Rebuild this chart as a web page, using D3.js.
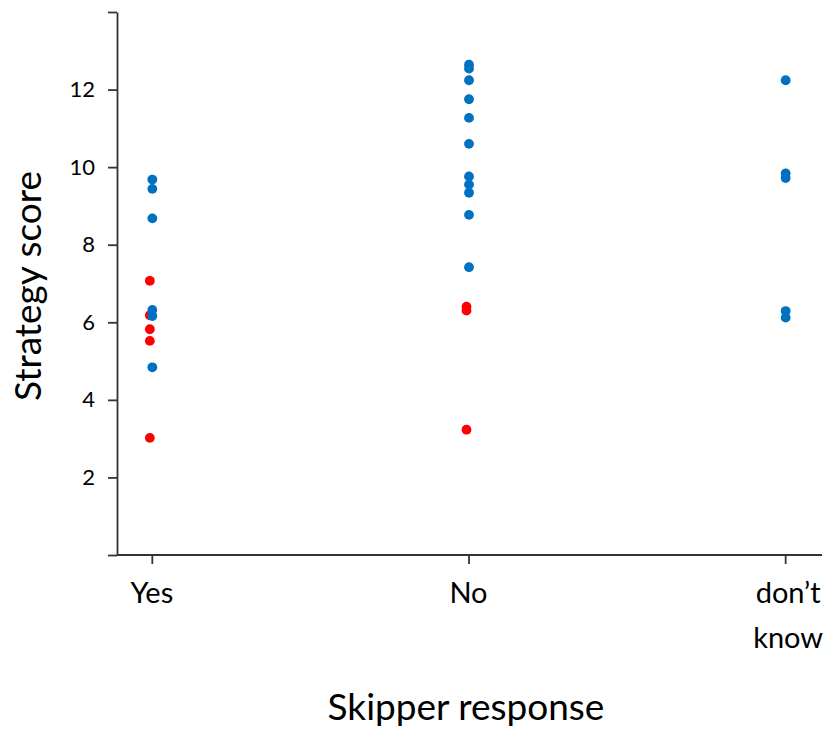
<!DOCTYPE html>
<html>
<head>
<meta charset="utf-8">
<script src="https://cdn.jsdelivr.net/npm/d3@7"></script>
<style>
    body { margin: 0; background: #fff; }
    svg text { font-family: Lato, 'Open Sans', sans-serif; fill: #000; }
    .axis path, .axis line { stroke: #333; stroke-width: 1.8; }
</style>
</head>
<body>
<div id="chart"></div>
<script>
// categories on the x axis
const categories = ['Yes', 'No', 'don\u2019t know'];

// blue and red scores per category (same order as categories)
const blueScores = [
    [9.68, 9.44, 8.68, 6.32, 6.16, 4.84],
    [12.64, 12.54, 12.24, 11.75, 11.27, 10.6, 9.76, 9.55, 9.34, 8.77, 7.42],
    [12.24, 9.84, 9.72, 6.29, 6.12]
];
const redScores = [
    [7.07, 6.18, 5.82, 5.52, 3.02],
    [6.4, 6.3, 3.23],
    []
];

const yTicks = [0, 2, 4, 6, 8, 10, 12, 14];
const yLabelled = [2, 4, 6, 8, 10, 12];

const width = 828;
const height = 729;
const plotLeft = 117, plotRight = 820, plotTop = 12, plotBottom = 555;

const svg = d3.select('#chart')
    .append('svg')
    .attr('width', width)
    .attr('height', height);

const xScale = d3.scalePoint()
    .domain(categories)
    .range([plotLeft, plotRight])
    .padding(0.11);

const yScale = d3.scaleLinear()
    .domain([0, 14])
    .range([plotBottom, plotTop]);

// y axis
const yAxis = d3.axisLeft(yScale)
    .tickValues(yTicks)
    .tickSize(9)
    .tickPadding(13)
    .tickSizeOuter(0)
    .tickFormat(d => yLabelled.includes(d) ? d : '');

svg.append('g')
    .classed('axis', true)
    .attr('transform', 'translate(' + plotLeft + ',0)')
    .call(yAxis)
    .call(g => g.selectAll('text').style('font-size', '22px'));

// x axis (line runs the full width, category ticks below)
const xAxis = d3.axisBottom(xScale)
    .tickSize(9)
    .tickSizeOuter(0)
    .tickFormat('');

const xg = svg.append('g')
    .classed('axis', true)
    .attr('transform', 'translate(0,' + plotBottom + ')')
    .call(xAxis);
xg.select('path.domain').attr('d', 'M' + plotLeft + ',0H' + (plotRight + 2));

// category labels, wrapped like the original
categories.forEach(c => {
    const words = c === 'don\u2019t know' ? ['don\u2019t', 'know'] : [c];
    const cx = xScale(c) + (words.length > 1 ? 3 : 0);
    const t = svg.append('text')
        .attr('x', cx)
        .attr('y', 603)
        .attr('text-anchor', 'middle')
        .style('font-size', '29px');
    words.forEach((w, i) => {
        t.append('tspan')
            .attr('x', cx)
            .attr('dy', i === 0 ? 0 : 45)
            .text(w);
    });
});

// axis titles
svg.append('text')
    .attr('x', 466)
    .attr('y', 720)
    .attr('text-anchor', 'middle')
    .style('font-size', '37px')
    .text('Skipper response');

svg.append('text')
    .attr('transform', 'translate(41,' + 286 + ') rotate(-90)')
    .attr('text-anchor', 'middle')
    .style('font-size', '37px')
    .text('Strategy score');

// points
const series = [
    { scores: redScores, color: '#ff0000', dx: -2 },
    { scores: blueScores, color: '#0070c0', dx: 0.5 }
];

series.forEach(s => {
    const pts = [];
    s.scores.forEach((vals, i) => vals.forEach(v => pts.push({ cat: categories[i], v: v })));
    svg.append('g')
        .selectAll('circle')
        .data(pts)
        .enter()
        .append('circle')
        .attr('cx', d => xScale(d.cat) + s.dx)
        .attr('cy', d => yScale(d.v))
        .attr('r', 4.9)
        .attr('fill', s.color);
});
</script>
</body>
</html>
